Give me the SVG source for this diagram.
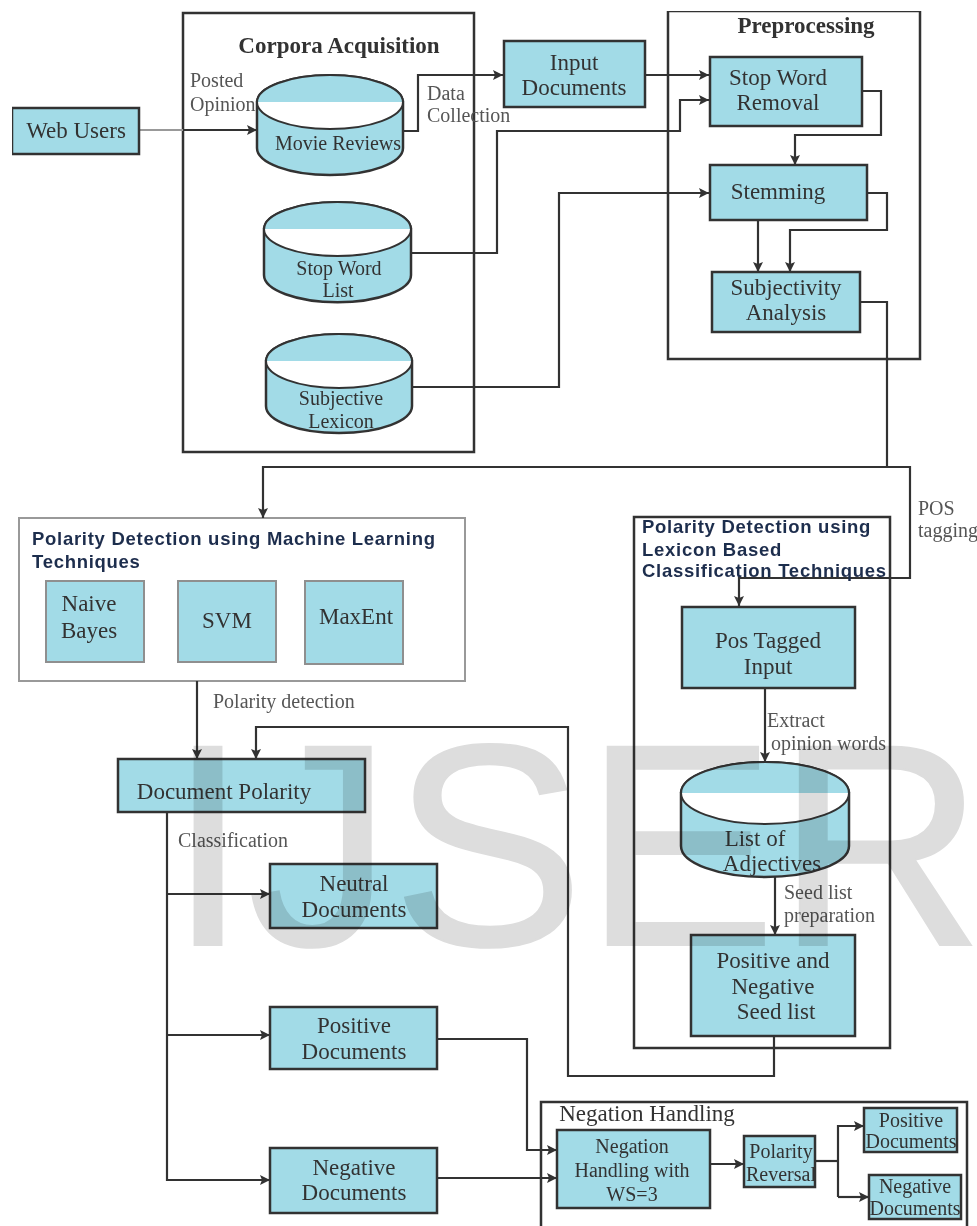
<svg xmlns="http://www.w3.org/2000/svg" width="977" height="1226" viewBox="0 0 977 1226">
<style>
.b{fill:#a2dbe7;stroke:#333;stroke-width:2.5}
.g{fill:#a2dbe7;stroke:#8f8f8f;stroke-width:2}
.f{fill:none;stroke:#333;stroke-width:2.5}
.c{fill:none;stroke:#333;stroke-width:2.2;marker-end:url(#a)}
.n{fill:none;stroke:#333;stroke-width:2.2}
text{font-family:"Liberation Serif",serif;fill:#333;text-anchor:middle;font-size:23px}
.l{font-size:20px;fill:#555;text-anchor:start}
.h{font-weight:bold;font-size:23px}
.s{font-family:"Liberation Sans",sans-serif;font-weight:bold;font-size:18.5px;letter-spacing:.72px;fill:#1f2d4d;text-anchor:start}
.m{font-size:20px}
.w{font-family:"Liberation Sans",sans-serif;font-size:288px;fill:#ddd;stroke:#ddd;stroke-width:2;text-anchor:start;mix-blend-mode:multiply}
</style>
<defs>
<marker id="a" markerUnits="userSpaceOnUse" markerWidth="11" markerHeight="10" refX="10" refY="5" orient="auto"><path d="M0 0L10 5L0 10L2 5Z" fill="#333"/></marker>
<filter id="bl" x="0" y="0" width="100%" height="100%"><feGaussianBlur stdDeviation="0.55"/></filter>
</defs>
<rect width="977" height="1226" fill="#fff"/>
<g filter="url(#bl)">
<g id="containers">
<rect id="corpora" class="f" x="183" y="13" width="291" height="439"/>
<rect id="preprocessing" class="f" x="668" y="11" width="252" height="348"/>
<rect id="ml" x="19" y="518" width="446" height="163" fill="none" stroke="#999" stroke-width="2"/>
<rect id="lexicon" class="f" x="634" y="517" width="256" height="531"/>
<path id="negation" class="f" d="M541 1226V1102H967V1226"/>
</g>
<g id="connectors">
<path d="M140 130H183" fill="none" stroke="#999" stroke-width="2"/>
<path class="c" d="M183 130H257"/>
<path class="c" d="M404 131H418V75H503"/>
<path class="c" d="M411 253H497V131H680V100H709"/>
<path class="c" d="M412 387H559V193H709"/>
<path class="c" d="M645 75H709"/>
<path class="c" d="M862 91H881V135H795V165"/>
<path class="c" d="M867 193H887V230H790V272"/>
<path class="c" d="M758 220V272"/>
<path class="n" d="M860 302H887V467"/>
<path class="c" d="M910 467H263V518"/>
<path class="c" d="M887 467H910V578H739V606"/>
<path class="c" d="M197 681V759"/>
<path class="c" d="M774 1036V1076H568V727H256V759"/>
<path class="c" d="M167 812V1180H270"/>
<path class="c" d="M167 894H270"/>
<path class="c" d="M167 1035H270"/>
<path class="c" d="M437 1039H527V1150H557"/>
<path class="c" d="M437 1178H557"/>
<path class="c" d="M765 688V762"/>
<path class="c" d="M775 877V935"/>
<path class="c" d="M710 1164H744"/>
<path class="n" d="M815 1161H838"/>
<path class="c" d="M838 1197V1126H864"/>
<path class="c" d="M838 1197H869"/>
</g>
<g id="web-users"><rect class="b" x="12" y="108" width="127" height="46"/><text x="76" y="138">Web Users</text></g>
<g id="movie-reviews"><path class="b" d="M257 102V148A73 27 0 0 0 403 148V102Z"/><ellipse cx="330" cy="102" rx="73" ry="27" fill="#fff" stroke="#333" stroke-width="2"/><path d="M257 102A73 27 0 0 1 403 102Z" fill="#a2dbe7"/><path class="n" d="M257 102A73 27 0 0 1 403 102"/><text class="m" x="338" y="150">Movie Reviews</text></g>
<g id="stop-word-list"><path class="b" d="M264 229V275A73 27 0 0 0 411 275V229Z"/><ellipse cx="337.500" cy="229" rx="73.500" ry="27" fill="#fff" stroke="#333" stroke-width="2"/><path d="M264 229A73.500 27 0 0 1 411 229Z" fill="#a2dbe7"/><path class="n" d="M264 229A73.500 27 0 0 1 411 229"/><text class="m" x="339" y="275">Stop Word</text><text class="m" x="338" y="297">List</text></g>
<g id="subjective-lexicon"><path class="b" d="M266 361V406A73 27 0 0 0 412 406V361Z"/><ellipse cx="339" cy="361" rx="73" ry="27" fill="#fff" stroke="#333" stroke-width="2"/><path d="M266 361A73 27 0 0 1 412 361Z" fill="#a2dbe7"/><path class="n" d="M266 361A73 27 0 0 1 412 361"/><text class="m" x="341" y="405">Subjective</text><text class="m" x="341" y="428">Lexicon</text></g>
<text class="h" x="339" y="53">Corpora Acquisition</text>
<text class="l" x="190" y="87">Posted</text><text class="l" x="190" y="111">Opinion</text>
<text class="l" x="427" y="100">Data</text><text class="l" x="427" y="122">Collection</text>
<g id="input-documents"><rect class="b" x="504" y="41" width="141" height="66"/><text x="574" y="70">Input</text><text x="574" y="95">Documents</text></g>
<text class="h" x="806" y="33">Preprocessing</text>
<g id="stop-word-removal"><rect class="b" x="710" y="57" width="152" height="69"/><text x="778" y="85">Stop Word</text><text x="778" y="110">Removal</text></g>
<g id="stemming"><rect class="b" x="710" y="165" width="157" height="55"/><text x="778" y="199">Stemming</text></g>
<g id="subjectivity"><rect class="b" x="712" y="272" width="148" height="60"/><text x="786" y="295">Subjectivity</text><text x="786" y="320">Analysis</text></g>
<text class="s" x="32" y="545">Polarity Detection using Machine Learning</text><text class="s" x="32" y="568">Techniques</text>
<g id="naive-bayes"><rect class="g" x="46" y="581" width="98" height="81"/><text x="89" y="611">Naive</text><text x="89" y="638">Bayes</text></g>
<g id="svm"><rect class="g" x="178" y="581" width="98" height="81"/><text x="227" y="628">SVM</text></g>
<g id="maxent"><rect class="g" x="305" y="581" width="98" height="83"/><text x="356" y="624">MaxEnt</text></g>
<text class="l" x="213" y="708">Polarity detection</text>
<g id="document-polarity"><rect class="b" x="118" y="759" width="247" height="53"/><text x="224" y="799">Document Polarity</text></g>
<text class="l" x="178" y="847">Classification</text>
<g id="neutral"><rect class="b" x="270" y="864" width="167" height="64"/><text x="354" y="891">Neutral</text><text x="354" y="917">Documents</text></g>
<g id="positive"><rect class="b" x="270" y="1007" width="167" height="62"/><text x="354" y="1033">Positive</text><text x="354" y="1059">Documents</text></g>
<g id="negative"><rect class="b" x="270" y="1148" width="167" height="65"/><text x="354" y="1175">Negative</text><text x="354" y="1200">Documents</text></g>
<text class="s" x="642" y="533">Polarity Detection using</text><text class="s" x="642" y="556">Lexicon Based</text><text class="s" x="642" y="577">Classification Techniques</text>
<text class="l" x="918" y="515">POS</text><text class="l" x="918" y="537">tagging</text>
<g id="pos-tagged"><rect class="b" x="682" y="607" width="173" height="81"/><text x="768" y="648">Pos Tagged</text><text x="768" y="674">Input</text></g>
<text class="l" x="767" y="727">Extract</text><text class="l" x="771" y="750">opinion words</text>
<g id="adjectives"><path class="b" d="M681 793V846A84 31 0 0 0 849 846V793Z"/><ellipse cx="765" cy="793" rx="84" ry="31" fill="#fff" stroke="#333" stroke-width="2"/><path d="M681 793A84 31 0 0 1 849 793Z" fill="#a2dbe7"/><path class="n" d="M681 793A84 31 0 0 1 849 793"/><text x="755" y="846">List of</text><text x="772" y="871">Adjectives</text></g>
<text class="l" x="784" y="899">Seed list</text><text class="l" x="784" y="922">preparation</text>
<g id="seed-list"><rect class="b" x="691" y="935" width="164" height="101"/><text x="773" y="968">Positive and</text><text x="773" y="994">Negative</text><text x="776" y="1019">Seed list</text></g>
<text x="647" y="1121" fill="#4a4a6a">Negation Handling</text>
<g id="ws3"><rect class="b" x="557" y="1130" width="153" height="78"/><text class="m" x="632" y="1153">Negation</text><text class="m" x="632" y="1177">Handling with</text><text class="m" x="632" y="1201">WS=3</text></g>
<g id="reversal"><rect class="b" x="744" y="1136" width="71" height="51"/><text class="m" x="781" y="1158">Polarity</text><text class="m" x="781" y="1181">Reversal</text></g>
<g id="pos-out"><rect class="b" x="864" y="1108" width="93" height="44"/><text class="m" x="911" y="1127">Positive</text><text class="m" x="911" y="1148">Documents</text></g>
<g id="neg-out"><rect class="b" x="869" y="1175" width="92" height="44"/><text class="m" x="915" y="1193">Negative</text><text class="m" x="915" y="1215">Documents</text></g>
<text class="w" x="168" y="945">IJSER</text>
</g>
</svg>
